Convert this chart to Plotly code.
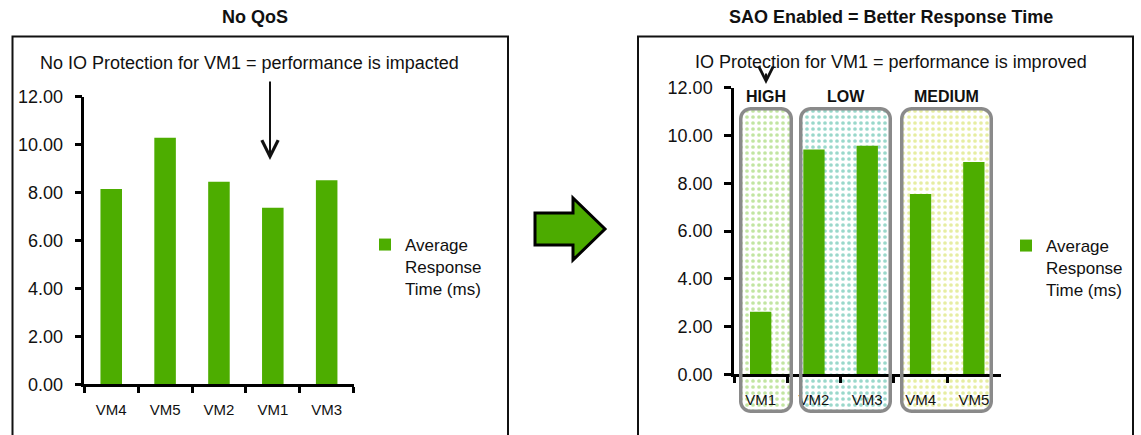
import numpy as np
import plotly.graph_objects as go

W, H = 1141, 435

# ---- chart values ----
left_categories = ["VM4", "VM5", "VM2", "VM1", "VM3"]
left_values = [8.15, 10.29, 8.45, 7.37, 8.51]
right_categories = ["VM1", "VM2", "VM3", "VM4", "VM5"]
right_values = [2.62, 9.41, 9.57, 7.55, 8.89]
y_tick_values = [0, 2, 4, 6, 8, 10, 12]
group_names = ["HIGH", "LOW", "MEDIUM"]
series_name = "Average<br>Response<br>Time (ms)"

BAR = "#4DAD00"
FONT = "Liberation Sans, Arial, sans-serif"
INK = "#111111"


def fx(p):
    return p / W


def fy(p):
    return 1 - p / H


def rounded_rect(x0, y0, x1, y1, r, n=10):
    """Outline points of a rounded rectangle in pixel space (y grows downward)."""
    pts = []
    corners = [(x1 - r, y0 + r, -90, 0), (x1 - r, y1 - r, 0, 90),
               (x0 + r, y1 - r, 90, 180), (x0 + r, y0 + r, 180, 270)]
    for cx, cy, a0, a1 in corners:
        for a in np.linspace(np.radians(a0), np.radians(a1), n):
            pts.append((cx + r * np.cos(a), cy + r * np.sin(a)))
    pts.append(pts[0])
    xs, ys = zip(*pts)
    return list(xs), list(ys)


def svg_path(xs, ys):
    return "M" + " L".join(f"{x:.2f},{y:.2f}" for x, y in zip(xs, ys)) + " Z"


fig = go.Figure()

# ---- priority group boxes (dotted background, drawn on the full-canvas pixel axes) ----
group_boxes = [
    (group_names[0], 739, 793, "#86cc46"),
    (group_names[1], 799, 892, "#35b197"),
    (group_names[2], 900, 993, "#cddc45"),
]
BOX_TOP, BOX_BOTTOM = 107, 413
for name, x0, x1, col in group_boxes:
    xs, ys = rounded_rect(x0 + 2, BOX_TOP + 2, x1 - 2, BOX_BOTTOM - 2, 9)
    fig.add_trace(go.Scatter(
        x=xs, y=ys, mode="lines", fill="toself", line=dict(width=0),
        fillcolor="white",
        fillpattern=dict(shape=".", fgcolor=col, bgcolor="white", size=6, solidity=0.3),
        xaxis="x", yaxis="y", showlegend=False, hoverinfo="skip",
    ))

# ---- bar series ----
fig.add_trace(go.Bar(
    x=left_categories, y=left_values, name=series_name,
    marker=dict(color=BAR, line=dict(width=0)),
    xaxis="x2", yaxis="y2", legend="legend",
))
fig.add_trace(go.Bar(
    x=right_categories, y=right_values, name=series_name,
    marker=dict(color=BAR, line=dict(width=0)),
    xaxis="x3", yaxis="y3", legend="legend2",
))

shapes = []
# panel frames
shapes.append(dict(type="rect", xref="x", yref="y", x0=12.5, y0=36.5, x1=508, y1=450,
                   line=dict(color=INK, width=2), fillcolor="rgba(0,0,0,0)", layer="above"))
shapes.append(dict(type="rect", xref="x", yref="y", x0=638, y0=36.5, x1=1133, y1=450,
                   line=dict(color=INK, width=2), fillcolor="rgba(0,0,0,0)", layer="above"))
# rounded outlines of the groups
for name, x0, x1, col in group_boxes:
    xs, ys = rounded_rect(x0 + 1.75, BOX_TOP + 1.75, x1 - 1.75, BOX_BOTTOM - 1.75, 10)
    shapes.append(dict(type="path", xref="x", yref="y", path=svg_path(xs, ys),
                       line=dict(color="#8a8a8a", width=3.5), fillcolor="rgba(0,0,0,0)",
                       layer="above"))
# block arrow between the two panels
arrow_path = "M535,213 L573,213 L573,198 L605,229 L573,260 L573,245 L535,245 Z"
shapes.append(dict(type="path", xref="x", yref="y", path=arrow_path,
                   fillcolor="#4CAB00", line=dict(color="black", width=3), layer="above"))

annotations = [
    dict(text="<b>No QoS</b>", x=255, y=17, xref="x", yref="y", showarrow=False,
         font=dict(size=18, color=INK, family=FONT)),
    dict(text="<b>SAO Enabled = Better Response Time</b>", x=891, y=17, xref="x", yref="y",
         showarrow=False, font=dict(size=18, color=INK, family=FONT)),
    dict(text="No IO Protection for VM1 = performance is impacted", x=249, y=63,
         xref="x", yref="y", showarrow=False, font=dict(size=18, color=INK, family=FONT)),
    dict(text="IO Protection for VM1 = performance is improved", x=891, y=62,
         xref="x", yref="y", showarrow=False, font=dict(size=18, color=INK, family=FONT)),
    # pointer arrows
    dict(text="", x=270, y=160, ax=270, ay=80, xref="x", yref="y", axref="x", ayref="y",
         showarrow=True, arrowhead=5, arrowsize=1.6, arrowwidth=2, arrowcolor=INK),
    dict(text="", x=766, y=84, ax=766, ay=72, xref="x", yref="y", axref="x", ayref="y",
         showarrow=True, arrowhead=5, arrowsize=1.4, arrowwidth=2, arrowcolor=INK),
]
for name, x0, x1, col in group_boxes:
    annotations.append(dict(text=f"<b>{name}</b>", x=(x0 + x1) / 2, y=96, xref="x", yref="y",
                            showarrow=False, font=dict(size=16, color=INK, family=FONT)))


def cat_axis(x0, x1, anchor):
    return dict(domain=[fx(x0), fx(x1)], anchor=anchor, type="category",
                showline=True, linecolor="black", linewidth=2.5,
                ticks="outside", tickson="boundaries", ticklen=6, tickwidth=2.5,
                tickcolor="black", ticklabelstandoff=10, automargin=False,
                tickfont=dict(size=15, color=INK, family=FONT),
                showgrid=False, zeroline=False, fixedrange=True)


def val_axis(y_top, y_bottom, anchor):
    return dict(domain=[fy(y_bottom), fy(y_top)], anchor=anchor, range=[0, 12],
                tickvals=y_tick_values, tickformat=".2f",
                showline=True, linecolor="black", linewidth=2.5,
                ticks="outside", ticklen=7, tickwidth=2.5, tickcolor="black",
                ticklabelstandoff=8, automargin=False,
                tickfont=dict(size=18, color=INK, family=FONT),
                showgrid=False, zeroline=False, fixedrange=True)


legend_common = dict(xanchor="left", yanchor="top", bgcolor="rgba(0,0,0,0)",
                     borderwidth=0, valign="top", itemwidth=30,
                     font=dict(size=17, color=INK, family=FONT))

fig.update_layout(
    width=W, height=H,
    margin=dict(l=0, r=0, t=0, b=0, autoexpand=False),
    paper_bgcolor="white", plot_bgcolor="rgba(0,0,0,0)",
    font=dict(family=FONT, color=INK),
    bargap=0.6,
    xaxis=dict(domain=[0, 1], range=[0, W], visible=False, fixedrange=True),
    yaxis=dict(domain=[0, 1], range=[H, 0], visible=False, fixedrange=True),
    xaxis2=cat_axis(84.3, 353.6, "y2"),
    yaxis2=val_axis(96.7, 384.3, "x2"),
    xaxis3=cat_axis(734, 1000.5, "y3"),
    yaxis3=val_axis(87.7, 374.3, "x3"),
    legend=dict(x=fx(365), y=fy(227), **legend_common),
    legend2=dict(x=fx(1006), y=fy(228), **legend_common),
    shapes=shapes,
    annotations=annotations,
    showlegend=True,
)

fig.write_html("out.html")
